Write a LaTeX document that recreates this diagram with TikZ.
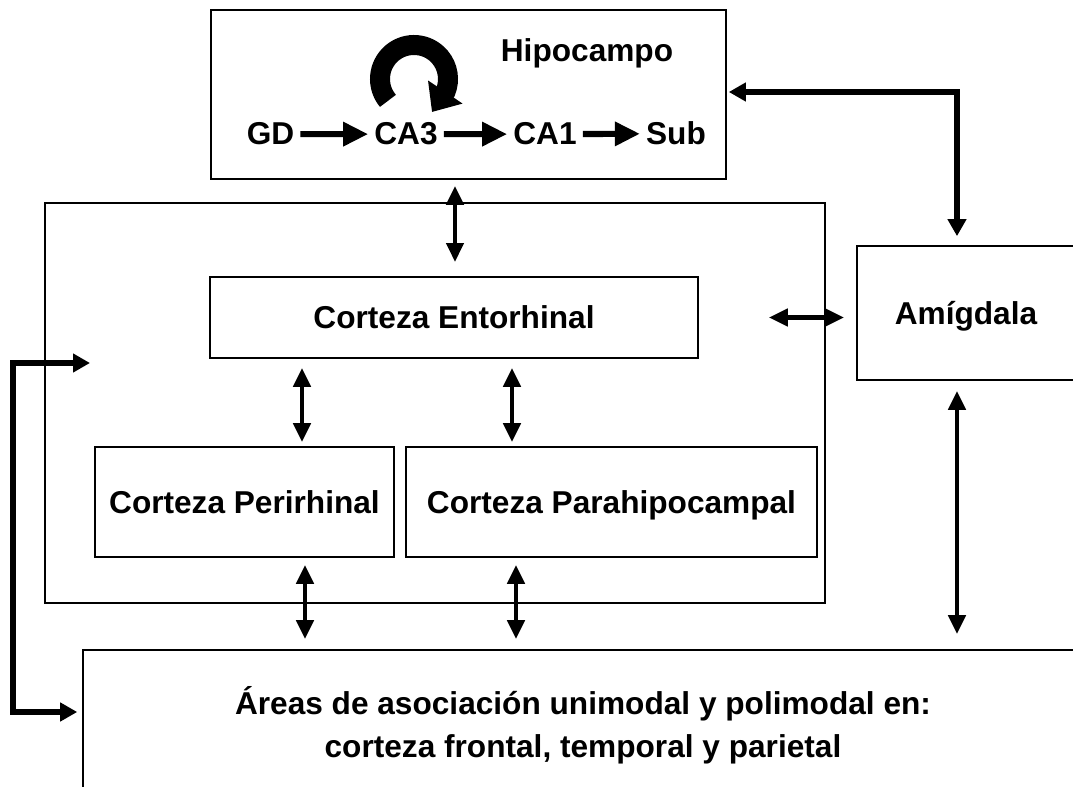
\documentclass[tikz,border=0pt]{standalone}
\usepackage{fontspec}
\setmainfont{Liberation Sans}
\usetikzlibrary{arrows.meta}
\begin{document}
\begin{tikzpicture}[
		x=0.02cm, y=-0.02cm,
		every node/.style={font=\fontsize{18}{24.5}\selectfont\bfseries},
		box/.style={draw, line width=1pt, inner sep=0pt},
		flow/.style={line width=3.5pt, -{Triangle[length=0.5cm,width=0.46cm]}},
		twoway/.style={line width=2.5pt, {Triangle[length=0.38cm,width=0.34cm]}-{Triangle[length=0.38cm,width=0.34cm]}},
		link/.style={line width=3pt, {Triangle[length=0.34cm,width=0.36cm]}-{Triangle[length=0.34cm,width=0.36cm]}},
		recur/.style={line width=0.4cm, -{Triangle[length=0.48cm,width=0.8cm]}}
	]
	\useasboundingbox (0,0) rectangle (1073,787);
	\clip (0,0) rectangle (1073,787);

	% boxes
	\node[box, minimum width=10.3cm, minimum height=3.38cm] (hipo) at (468.5,94.5) {};
	\node[box, minimum width=15.6cm, minimum height=8cm] (mtl) at (435,403) {};
	\node[box, minimum width=9.76cm, minimum height=1.62cm] (ento) at (454,317.5) {Corteza Entorhinal};
	\node[box, minimum width=5.98cm, minimum height=2.2cm, text depth=0pt] (peri) at (244.5,502) {Corteza Perirhinal};
	\node[box, minimum width=8.22cm, minimum height=2.2cm, text depth=0pt] (para) at (611.5,502) {Corteza Parahipocampal};
	\node[box, minimum width=4.36cm, minimum height=2.68cm, text depth=0pt] (amyg) at (966,313) {Amígdala};
	\node[box, minimum width=20cm, minimum height=3cm, align=center] (asoc) at (583,725)
		{Áreas de asociación unimodal y polimodal en:\\corteza frontal, temporal y parietal};

	% hipocampo
	\node[anchor=base] (hiptitle) at (587,62) {Hipocampo};
	\node[anchor=base] (gd) at (270.5,145) {GD};
	\node[anchor=base] (ca3) at (406,145) {CA3};
	\node[anchor=base] (ca1) at (545,145) {CA1};
	\node[anchor=base] (sub) at (676,145) {Sub};
	\draw[flow] (gd) -- (ca3);
	\draw[flow] (ca3) -- (ca1);
	\draw[flow] (ca1) -- (sub);
	\draw[recur] (414,79) ++(140:34) arc[start angle=140, end angle=382, radius=34] -- (432,112);

	% connections
	\coordinate (mtlin) at (455,262);
	\coordinate (cB) at (302,0);
	\coordinate (cC) at (512,0);
	\coordinate (cD) at (305,0);
	\coordinate (cE) at (516,0);
	\coordinate (rA) at (957,92);
	\coordinate (inA) at (90,363);
	\coordinate (rB) at (13,712);

	\draw[twoway, shorten <=0.12cm] (hipo.south -| mtlin) -- (mtlin);
	\draw[twoway, shorten <=0.18cm, shorten >=0.08cm] (ento.south -| cB) -- (peri.north -| cB);
	\draw[twoway, shorten <=0.18cm, shorten >=0.08cm] (ento.south -| cC) -- (para.north -| cC);
	\draw[twoway, shorten <=0.14cm, shorten >=0.2cm] (peri.south -| cD) -- (asoc.north -| cD);
	\draw[twoway, shorten <=0.14cm, shorten >=0.2cm] (para.south -| cE) -- (asoc.north -| cE);
	\draw[twoway, shorten <=0.2cm, shorten >=0.3cm] (amyg.south -| rA) -- (asoc.north -| rA);
	\draw[twoway, shorten <=1.4cm, shorten >=0.24cm] (ento.east) -- (amyg.west |- ento.east);
	\draw[link, shorten <=0.04cm, shorten >=0.18cm] (hipo.east |- rA) -- (rA) -- (amyg.north -| rA);
	\draw[link, shorten >=0.1cm] (inA) -| (rB) -- (asoc.west |- rB);
\end{tikzpicture}
\end{document}
